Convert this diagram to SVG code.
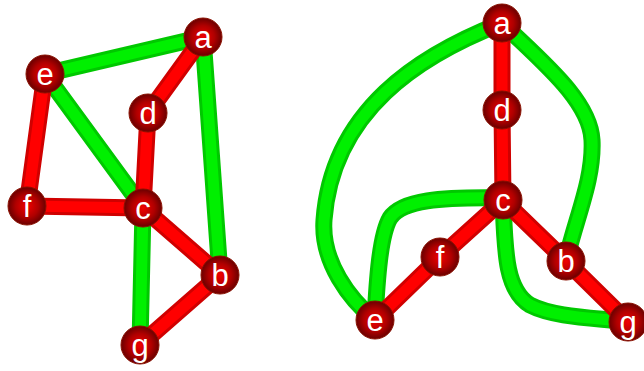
<svg xmlns="http://www.w3.org/2000/svg" width="644" height="371" viewBox="0 0 644 371">
<defs>
<radialGradient id="ng" cx="50%" cy="50%" r="50%">
<stop offset="0" stop-color="#f00000"/>
<stop offset="0.6" stop-color="#b00000"/>
<stop offset="1" stop-color="#6a0000"/>
</radialGradient>
</defs>
<style>
.go{fill:none;stroke:#00c800;stroke-width:17;stroke-linecap:butt}
.gi{fill:none;stroke:#00f000;stroke-width:11}
.ro{fill:none;stroke:#d00000;stroke-width:17}
.ri{fill:none;stroke:#ff0000;stroke-width:11}
.n circle{fill:url(#ng);stroke:#8a1000;stroke-width:1}
.n text{fill:#ffffff;font-family:"Liberation Sans",Arial,sans-serif;font-size:31px;text-anchor:middle}
</style>
<g id="connectors">
<path class="go" d="M45,74 L203,37 M203,37 L220,275 M45,74 L143,208 M143,208 L140,345"/>
<path class="gi" d="M45,74 L203,37 M203,37 L220,275 M45,74 L143,208 M143,208 L140,345"/>
<path class="ro" d="M203,37 L148,113 M45,74 L27,206 M148,113 L143,208 M27,206 L143,208 M143,208 L220,275 M220,275 L140,345"/>
<path class="ri" d="M203,37 L148,113 M45,74 L27,206 M148,113 L143,208 M27,206 L143,208 M143,208 L220,275 M220,275 L140,345"/>
<path class="go" d="M502,23 C420,55 332,110 324,220 C321,262 350,300 375,320 M502,23 C540,60 590,100 592,140 C594,180 575,220 566,261 M503,198 C440,197 402,200 390,218 C380,235 377,280 375,320 M503,200 C505,250 505,290 530,305 C555,318 600,318 628,322"/>
<path class="gi" d="M502,23 C420,55 332,110 324,220 C321,262 350,300 375,320 M502,23 C540,60 590,100 592,140 C594,180 575,220 566,261 M503,198 C440,197 402,200 390,218 C380,235 377,280 375,320 M503,200 C505,250 505,290 530,305 C555,318 600,318 628,322"/>
<path class="ro" d="M502,23 L502,110 L503,200 L440,257 L375,320 M503,200 L566,261 L628,322"/>
<path class="ri" d="M502,23 L502,110 L503,200 L440,257 L375,320 M503,200 L566,261 L628,322"/>
</g>
<g id="L-a" class="n"><circle cx="203" cy="37" r="19"/><text x="203" y="48">a</text></g>
<g id="L-e" class="n"><circle cx="45" cy="74" r="19"/><text x="45" y="85">e</text></g>
<g id="L-d" class="n"><circle cx="148" cy="113" r="19"/><text x="148" y="124">d</text></g>
<g id="L-f" class="n"><circle cx="27" cy="206" r="19"/><text x="27" y="217">f</text></g>
<g id="L-c" class="n"><circle cx="143" cy="208" r="19"/><text x="143" y="219">c</text></g>
<g id="L-b" class="n"><circle cx="220" cy="275" r="19"/><text x="220" y="286">b</text></g>
<g id="L-g" class="n"><circle cx="140" cy="345" r="19"/><text x="140" y="356">g</text></g>
<g id="R-a" class="n"><circle cx="502" cy="23" r="19"/><text x="502" y="34">a</text></g>
<g id="R-d" class="n"><circle cx="502" cy="110" r="19"/><text x="502" y="121">d</text></g>
<g id="R-c" class="n"><circle cx="503" cy="200" r="19"/><text x="503" y="211">c</text></g>
<g id="R-f" class="n"><circle cx="440" cy="257" r="19"/><text x="440" y="268">f</text></g>
<g id="R-b" class="n"><circle cx="566" cy="261" r="19"/><text x="566" y="272">b</text></g>
<g id="R-e" class="n"><circle cx="375" cy="320" r="19"/><text x="375" y="331">e</text></g>
<g id="R-g" class="n"><circle cx="628" cy="322" r="19"/><text x="628" y="333">g</text></g>
</svg>
